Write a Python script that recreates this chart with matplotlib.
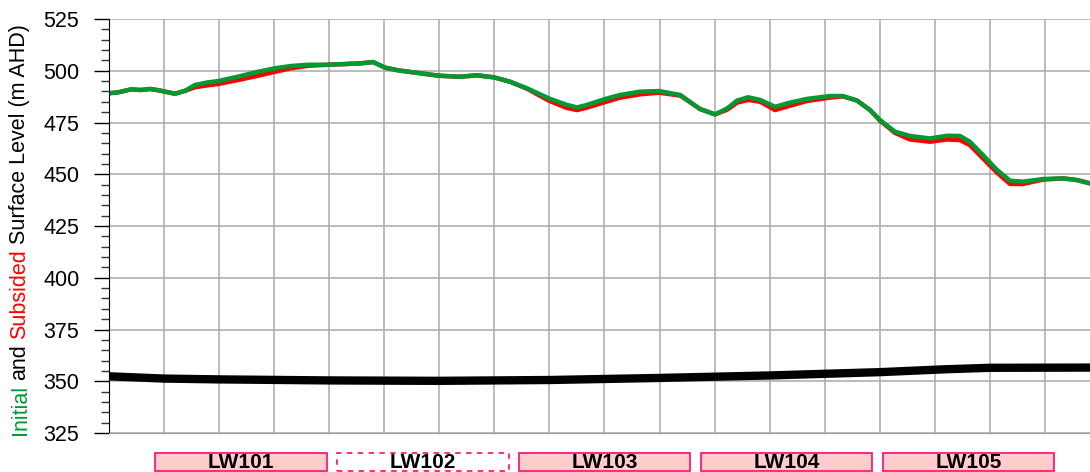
import numpy as np
import matplotlib.pyplot as plt
from matplotlib.patches import Rectangle
import matplotlib.transforms as mtransforms

plt.rcParams['font.family'] = ['Liberation Sans', 'DejaVu Sans']

# chainage along the section (m)
chain = [0, 45, 102, 147, 188, 225, 302, 347, 392, 451, 497, 601, 678, 755, 828, 905,
         996, 1087, 1146, 1200, 1255, 1314, 1413, 1499, 1595, 1672, 1749, 1822, 1899,
         1999, 2080, 2126, 2171, 2248, 2321, 2411, 2498, 2594, 2684, 2752, 2807, 2852,
         2902, 2957, 3024, 3092, 3169, 3273, 3332, 3396, 3455, 3500, 3568, 3636, 3727,
         3804, 3863, 3908, 3967, 4031, 4090, 4149, 4240, 4331, 4394, 4453]
initial = [489.1, 489.6, 491.0, 490.7, 491.2, 490.6, 488.9, 490.3, 493.1, 494.4, 495.0,
           497.5, 499.5, 501.2, 502.3, 502.9, 502.9, 503.3, 503.6, 504.2, 501.5, 500.2,
           498.8, 497.6, 497.1, 497.8, 496.8, 494.7, 491.5, 486.6, 483.5, 482.3, 483.5,
           486.2, 488.3, 489.9, 490.2, 488.3, 481.5, 478.9, 481.8, 485.6, 487.2, 485.9,
           482.6, 484.6, 486.4, 487.8, 487.8, 485.6, 481.0, 476.2, 470.6, 468.5, 467.3,
           468.6, 468.5, 465.7, 459.3, 452.1, 446.9, 446.4, 447.7, 448.0, 447.2, 445.6]
subsided = [489.1, 489.6, 491.0, 490.7, 491.2, 490.6, 488.9, 490.3, 492.0, 493.0, 493.6,
            495.8, 497.6, 499.5, 501.2, 502.4, 502.9, 503.3, 503.6, 504.2, 501.5, 500.2,
            498.8, 497.6, 497.1, 497.8, 496.8, 494.7, 491.3, 485.5, 482.0, 481.0, 482.2,
            484.7, 487.0, 488.6, 489.4, 488.0, 481.5, 478.9, 481.2, 484.6, 485.9, 485.0,
            481.0, 483.1, 485.4, 487.0, 487.6, 485.6, 481.0, 475.9, 470.0, 466.8, 465.7,
            466.8, 466.5, 464.1, 457.7, 450.8, 445.3, 445.3, 447.4, 448.0, 447.2, 445.6]

seam_chain = [0, 250, 500, 1000, 1500, 2000, 2500, 3000, 3500, 3800, 4000, 4453]
seam = [352.4, 351.3, 350.9, 350.4, 350.2, 350.6, 351.6, 352.8, 354.4, 355.8, 356.5, 356.6]

panels = ['LW101', 'LW102', 'LW103', 'LW104', 'LW105']
panel_start = [211, 1036, 1862, 2688, 3514]
panel_end = [991, 1817, 2638, 3464, 4290]

green = '#009933'
red = '#ff0000'
pink = '#ff1a75'

fig = plt.figure(figsize=(10.9, 4.72), dpi=100)
ax = fig.add_axes([108.5 / 1090, 39 / 472, 1 - 108.5 / 1090, 414 / 472])

ax.plot(seam_chain, seam, color='black', lw=6, solid_capstyle='butt')
ax.plot(chain, subsided, color=red, lw=3.2, solid_joinstyle='round')
ax.plot(chain, initial, color=green, lw=3.2, solid_joinstyle='round')

ax.set_xlim(0, 4453)
ax.set_ylim(325, 525)
ax.set_xticks(np.arange(0, 4453, 250))
ax.set_yticks(np.arange(325, 526, 25))
ax.set_yticks(np.arange(325, 526, 5), minor=True)
ax.tick_params(axis='x', length=0, labelbottom=False)
ax.tick_params(axis='y', which='major', length=11, width=1, labelsize=15.5, pad=10)
ax.tick_params(axis='y', which='minor', length=6, width=1, color='#333333')
ax.grid(True, which='major', color='#aaaaaa', lw=1.1)
ax.set_axisbelow(True)
for s in ['top', 'right']:
    ax.spines[s].set_visible(False)
ax.spines['bottom'].set_color('#999999')
ax.spines['left'].set_color('black')

# longwall panels under the section
trans = mtransforms.blended_transform_factory(ax.transData, fig.transFigure)
for name, a, b in zip(panels, panel_start, panel_end):
    dashed = name == 'LW102'
    r = Rectangle((a, 1.5 / 472), b - a, 18 / 472, transform=trans, clip_on=False,
                  facecolor='white' if dashed else '#ffcccc', edgecolor=pink,
                  lw=1.3, ls=(0, (3, 3)) if dashed else '-')
    fig.add_artist(r)
    fig.text((a + b) / 2, 9.5 / 472, name, transform=trans, ha='center', va='center',
             fontsize=15, fontweight='bold')

# multi-coloured y label
parts = [('Initial', green), ('and', 'black'), ('Subsided', red),
         ('Surface Level (m AHD)', 'black')]
fig.canvas.draw()
rend = fig.canvas.get_renderer()
y = 37.0
gap = 5.0
for txt, col in parts:
    t = fig.text(20 / 1090, y / fig.bbox.height, txt, rotation=90, color=col,
                 fontsize=15.5, ha='center', va='bottom')
    bb = t.get_window_extent(rend)
    y = bb.y1 + gap

fig.savefig('out.png', dpi=100)
